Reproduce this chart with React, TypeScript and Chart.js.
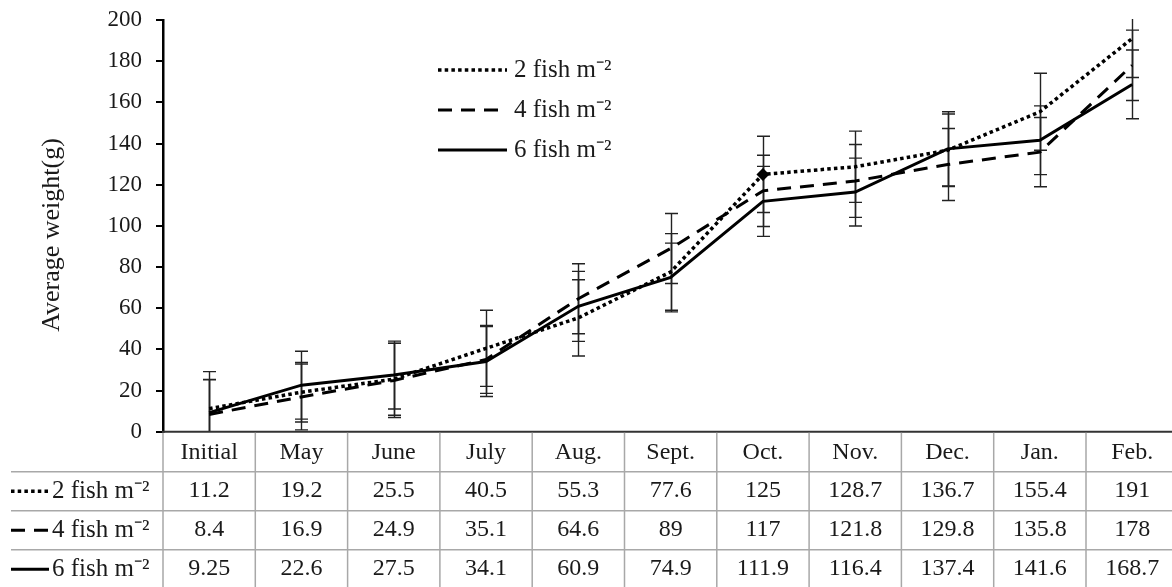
import React, { useEffect, useRef } from "react";
import { Chart, registerables } from "chart.js";

Chart.register(...registerables);

// ---- data ----
const months = ["Initial", "May", "June", "July", "Aug.", "Sept.", "Oct.", "Nov.", "Dec.", "Jan.", "Feb."];
const seriesNames = ["2 fish m\u207B\u00B2", "4 fish m\u207B\u00B2", "6 fish m\u207B\u00B2"];
const fish2 = [11.2, 19.2, 25.5, 40.5, 55.3, 77.6, 125, 128.7, 136.7, 155.4, 191];
const fish4 = [8.4, 16.9, 24.9, 35.1, 64.6, 89, 117, 121.8, 129.8, 135.8, 178];
const fish6 = [9.25, 22.6, 27.5, 34.1, 60.9, 74.9, 111.9, 116.4, 137.4, 141.6, 168.7];
const err2 = [18, 14.5, 17.5, 18.5, 18.5, 18.6, 18.5, 17.3, 17.6, 18.7, 18.9];
const err4 = [17, 16, 18, 16.5, 17, 17, 17.3, 17.7, 17.5, 16.8, 17.1];
const err6 = [16, 16.5, 16.5, 17, 17, 16.7, 17, 16.5, 18, 16.7, 16.7];
const yMin = 0;
const yMax = 200;
const yStep = 20;
const yTitle = "Average weight(g)";

const seriesValues = [fish2, fish4, fish6];
const seriesErrors = [err2, err4, err6];

// ---- styles ----
const FONT = '"Liberation Serif", "Times New Roman", serif';
const TEXT = "#1a1a1a";
const W = 1200;
const H = 587;
const lineStyles = [
  { dash: [3.5, 3.2], width: 3.5 },
  { dash: [14, 9], width: 3 },
  { dash: [] as number[], width: 3 },
];

function drawSample(ctx: CanvasRenderingContext2D, i: number, x0: number, x1: number, y: number) {
  ctx.save();
  ctx.strokeStyle = "#000";
  ctx.lineWidth = lineStyles[i].width;
  ctx.setLineDash(lineStyles[i].dash);
  ctx.beginPath();
  ctx.moveTo(x0, y);
  ctx.lineTo(x1, y);
  ctx.stroke();
  ctx.restore();
}

const customPlugin = {
  id: "customDraw",
  beforeDatasetsDraw(chart: any) {
    const { ctx, chartArea, scales } = chart;
    const x = scales.x;
    const y = scales.y;
    ctx.save();
    ctx.beginPath();
    ctx.rect(chartArea.left, chartArea.top - 1, chartArea.right - chartArea.left, chartArea.bottom - chartArea.top + 1);
    ctx.clip();
    ctx.strokeStyle = "#222";
    ctx.lineWidth = 1.4;
    const cap = 6.5;
    seriesValues.forEach((vals, si) => {
      const errs = seriesErrors[si];
      vals.forEach((v, i) => {
        const px = Math.round(x.getPixelForValue(i)) + 0.5;
        const hi = y.getPixelForValue(v + errs[i]);
        const lo = y.getPixelForValue(v - errs[i]);
        ctx.beginPath();
        ctx.moveTo(px, hi);
        ctx.lineTo(px, lo);
        ctx.moveTo(px - cap, hi);
        ctx.lineTo(px + cap, hi);
        ctx.moveTo(px - cap, lo);
        ctx.lineTo(px + cap, lo);
        ctx.stroke();
      });
    });
    ctx.restore();
  },
  afterDraw(chart: any) {
    const { ctx, chartArea, scales } = chart;
    const x = scales.x;
    const L = chartArea.left;
    const R = chartArea.right;
    const B = chartArea.bottom;
    const colW = (R - L) / months.length;
    const headerH = 40;
    const rowH = 39;

    ctx.save();
    // x axis line
    ctx.strokeStyle = "#333";
    ctx.lineWidth = 2;
    ctx.beginPath();
    ctx.moveTo(L - 1, B);
    ctx.lineTo(R, B);
    ctx.stroke();

    // table grid
    ctx.strokeStyle = "#a8a8a8";
    ctx.lineWidth = 1.5;
    ctx.beginPath();
    for (let r = 0; r < 4; r++) {
      const yy = B + headerH + r * rowH;
      ctx.moveTo(11, yy);
      ctx.lineTo(R, yy);
    }
    for (let i = 0; i <= months.length; i++) {
      const xx = L + i * colW;
      ctx.moveTo(xx, B + 1);
      ctx.lineTo(xx, H + 5);
    }
    ctx.stroke();

    // texts
    ctx.fillStyle = TEXT;
    ctx.font = `24px ${FONT}`;
    ctx.textAlign = "center";
    ctx.textBaseline = "middle";
    months.forEach((m, i) => {
      ctx.fillText(m, x.getPixelForValue(i), B + headerH / 2 + 1);
    });
    seriesValues.forEach((vals, si) => {
      const cy = B + headerH + si * rowH + rowH / 2;
      vals.forEach((v, i) => {
        ctx.fillText(String(v), x.getPixelForValue(i), cy);
      });
    });
    // row labels
    ctx.font = `25px ${FONT}`;
    ctx.textAlign = "left";
    seriesNames.forEach((name, si) => {
      const cy = B + headerH + si * rowH + rowH / 2;
      drawSample(ctx, si, 11, si === 2 ? 49 : 50, cy);
      ctx.fillStyle = TEXT;
      ctx.fillText(name, 52, cy);
    });

    // legend inside plot
    seriesNames.forEach((name, si) => {
      const cy = 70 + si * 40;
      drawSample(ctx, si, 438, 507, cy);
      ctx.fillStyle = TEXT;
      ctx.textAlign = "left";
      ctx.fillText(name, 514, cy);
    });

    // y axis title
    ctx.translate(52, 235);
    ctx.rotate(-Math.PI / 2);
    ctx.textAlign = "center";
    ctx.textBaseline = "middle";
    ctx.font = `26px ${FONT}`;
    ctx.fillText(yTitle, 0, 0);
    ctx.restore();
  },
};

export default function App() {
  const ref = useRef<HTMLCanvasElement>(null);

  useEffect(() => {
    if (!ref.current) return;
    const datasets = seriesValues.map((vals, si) => ({
      label: seriesNames[si],
      data: vals,
      borderColor: "#000",
      backgroundColor: "#000",
      borderWidth: lineStyles[si].width,
      borderDash: lineStyles[si].dash,
      borderCapStyle: "butt" as const,
      tension: 0,
      fill: false,
      pointStyle: "rectRot" as const,
      pointRadius: si === 0 ? months.map((m) => (m === "Oct." ? 6.5 : 0)) : 0,
      pointBackgroundColor: "#000",
      pointBorderColor: "#000",
      pointBorderWidth: 0,
      pointHoverRadius: 0,
    }));

    const chart = new Chart(ref.current, {
      type: "line",
      data: { labels: months, datasets },
      options: {
        responsive: false,
        animation: false,
        devicePixelRatio: 1,
        layout: { padding: { top: 20, bottom: H - 431.7, left: 0, right: W - (163 + 92.3 * 11) } },
        plugins: { legend: { display: false }, tooltip: { enabled: false } },
        events: [],
        scales: {
          x: { type: "category", offset: true, display: false },
          y: {
            min: yMin,
            max: yMax,
            ticks: { stepSize: yStep, font: { family: FONT, size: 23 }, color: TEXT, padding: 14 },
            grid: { drawOnChartArea: false, drawTicks: true, tickLength: 7, color: "#000", lineWidth: 2 },
            border: { display: true, color: "#000", width: 2.5 },
            afterFit(scale: any) {
              scale.width = 163;
              scale.paddingTop = 0;
              scale.paddingBottom = 0;
            },
          },
        },
      },
      plugins: [customPlugin],
    } as any);
    return () => chart.destroy();
  }, []);

  return (
    <div style={{ position: "fixed", left: 0, top: 0, width: 1172, height: 587, overflow: "hidden", background: "#fff" }}>
      <canvas ref={ref} width={W} height={H} style={{ display: "block", width: W, height: H }} />
    </div>
  );
}
